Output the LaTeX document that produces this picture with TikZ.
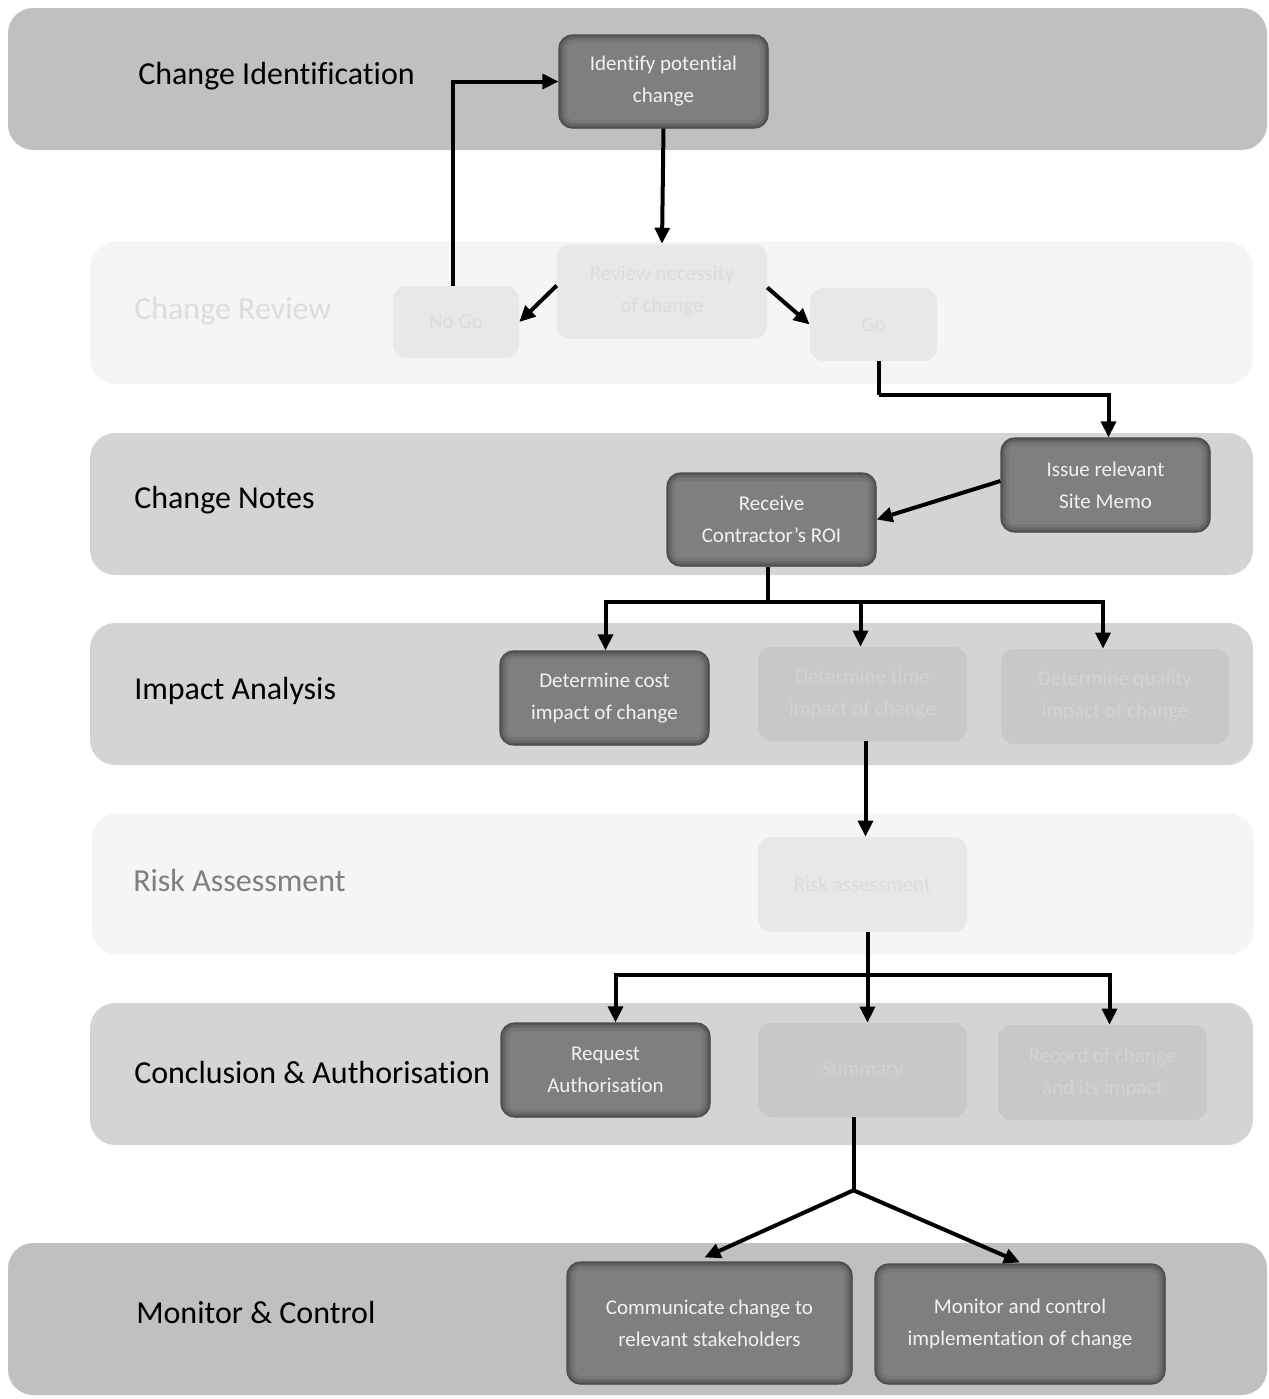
\documentclass[tikz,border=0pt]{standalone}
\usepackage{fontspec}
\setmainfont{Carlito}[Ligatures=NoCommon]
\usetikzlibrary{arrows.meta,calc}
\definecolor{bandA}{HTML}{C0C0C0}
\definecolor{bandB}{HTML}{D4D4D4}
\definecolor{bandC}{HTML}{F5F5F5}
\definecolor{darkfill}{HTML}{7F7F7F}
\definecolor{darkedge}{HTML}{4A4A4A}
\definecolor{fadeA}{HTML}{E8E8E8}
\definecolor{fadeAtext}{HTML}{DCDCDC}
\definecolor{fadeB}{HTML}{C8C8C8}
\definecolor{fadeBtext}{HTML}{D3D3D3}
\definecolor{reviewlbl}{HTML}{DCDCDC}
\definecolor{risklbl}{HTML}{7F7F7F}
\tikzset{
  x=0.75pt, y=-0.75pt,
  sz/.style 2 args={minimum width=#1*0.75pt, minimum height=#2*0.75pt},
  band/.style={rounded corners=19pt, inner sep=0pt},
  lbl/.style={anchor=west, inner sep=0pt, font=\fontsize{24pt}{28pt}\selectfont},
  boxtxt/.style={align=center, inner sep=0pt, font=\fontsize{15.75pt}{24pt}\selectfont},
  darkbox/.style={boxtxt, rounded corners=10pt, fill=darkfill, draw=darkedge, line width=0.8pt,
     text=white!95!black,
     path picture={
       \draw[line width=12pt, color=darkfill!93!black, rounded corners=10pt]
         (path picture bounding box.south west) rectangle (path picture bounding box.north east);
       \draw[line width=7pt, color=darkfill!82!black, rounded corners=10pt]
         (path picture bounding box.south west) rectangle (path picture bounding box.north east);
       \draw[line width=3.5pt, color=darkfill!70!black, rounded corners=10pt]
         (path picture bounding box.south west) rectangle (path picture bounding box.north east);
     }},
  fadeboxA/.style={boxtxt, rounded corners=10pt, fill=fadeA, text=fadeAtext},
  fadeboxB/.style={boxtxt, rounded corners=10pt, fill=fadeB, text=fadeBtext},
  conn/.style={line width=3pt, draw=black},
  arr/.style={conn, -{Triangle[length=12pt,width=11pt]}},
}
\begin{document}
\begin{tikzpicture}
\useasboundingbox (0,0) rectangle (1269,1399);
% bands
\node[band, fill=bandA, sz={1259}{142}] (b1) at (637.5,79) {};
\node[band, fill=bandC, sz={1163}{142}] (b2) at (671.5,313) {};
\node[band, fill=bandB, sz={1163}{142}] (b3) at (671.5,504) {};
\node[band, fill=bandB, sz={1163}{142}] (b4) at (671.5,694) {};
\node[band, fill=bandC, sz={1162}{142}] (b5) at (673,884) {};
\node[band, fill=bandB, sz={1163}{142}] (b6) at (671.5,1074) {};
\node[band, fill=bandA, sz={1259}{152}] (b7) at (637.5,1319) {};
% band labels
\node[lbl] (l1) at (138,76) {Change Identification};
\node[lbl, text=reviewlbl] (l2) at (134,311) {Change Review};
\node[lbl] (l3) at (134,500) {Change Notes};
\node[lbl] (l4) at (134,691) {Impact Analysis};
\node[lbl, text=risklbl] (l5) at (133,880) {Risk Assessment};
\node[lbl] (l6) at (134,1072) {Conclusion \& Authorisation};
\node[lbl] (l7) at (136,1312) {Monitor \& Control};
% process boxes
\node[darkbox, sz={209}{93}] (ident) at (663.5,81.5) {Identify potential\\change};
\node[fadeboxA, sz={210}{95}] (review) at (662,291.5) {Review necessity\\of change};
\node[fadeboxA, sz={126}{72}] (nogo) at (456,322) {No Go};
\node[fadeboxA, sz={127}{73}] (go) at (873.5,324.5) {Go};
\node[darkbox, sz={209}{94}] (issue) at (1105.5,485) {Issue relevant\\Site Memo};
\node[darkbox, sz={209}{93}] (receive) at (771.5,519.5) {Receive\\Contractor’s ROI};
\node[darkbox, sz={209}{94}] (cost) at (604.5,698) {Determine cost\\impact of change};
\node[fadeboxB, sz={209}{94}] (timeb) at (862.5,694) {Determine time\\impact of change};
\node[fadeboxB, sz={228}{95}] (qual) at (1115,696.5) {Determine quality\\impact of change};
\node[fadeboxA, sz={209}{95}] (risk) at (862.5,884.5) {Risk assessment};
\node[darkbox, sz={209}{94}] (auth) at (605.5,1070) {Request\\Authorisation};
\node[fadeboxB, sz={209}{94}] (summary) at (862.5,1070) {Summary};
\node[fadeboxB, sz={209}{95}] (record) at (1102.5,1072.5) {Record of change\\and its impact};
\node[darkbox, sz={285}{122}] (comm) at (709.5,1323) {Communicate change to\\relevant stakeholders};
\node[darkbox, sz={290}{120}] (mon) at (1020,1324) {Monitor and control\\implementation of change};
% connectors
\draw[arr] (ident.south) -- (review.north);
\draw[arr] ($(review.west)+(0,-6)$) -- (nogo.east);
\draw[arr] ($(review.east)+(0,-4)$) -- (go.west);
\draw[arr] ($(nogo.north)+(-3,0)$) |- (ident.west);
\draw[conn] ($(go.south)+(5,0)$) -- ++(0,34) coordinate (jgo);
\draw[arr] (jgo) -| ($(issue.north)+(3,0)$);
\draw[arr] ($(issue.west)+(0,-4)$) -- (receive.east);
\draw[conn] ($(receive.south)+(-4,0)$) -- ++(0,35) coordinate (j1);
\draw[arr] (j1) -| ($(cost.north)+(1,0)$);
\draw[arr] (j1) -| ($(timeb.north)+(-2,0)$);
\draw[arr] (j1) -| ($(qual.north)+(-12,0)$);
\draw[arr] ($(timeb.south)+(3,0)$) -- ($(risk.north)+(3,0)$);
\draw[conn] ($(risk.south)+(5,0)$) -- ++(0,43) coordinate (j2);
\draw[arr] (j2) -| ($(auth.north)+(10,0)$);
\draw[arr] (j2) -| ($(summary.north)+(5,0)$);
\draw[arr] (j2) -| ($(record.north)+(7,0)$);
\draw[conn] ($(summary.south)+(-9,0)$) -- ++(0,73) coordinate (j3);
\draw[arr] (j3) -- ($(comm.north)+(-5,-4)$);
\draw[arr] (j3) -- ($(mon.north)+(0,-1)$);
\end{tikzpicture}
\end{document}
